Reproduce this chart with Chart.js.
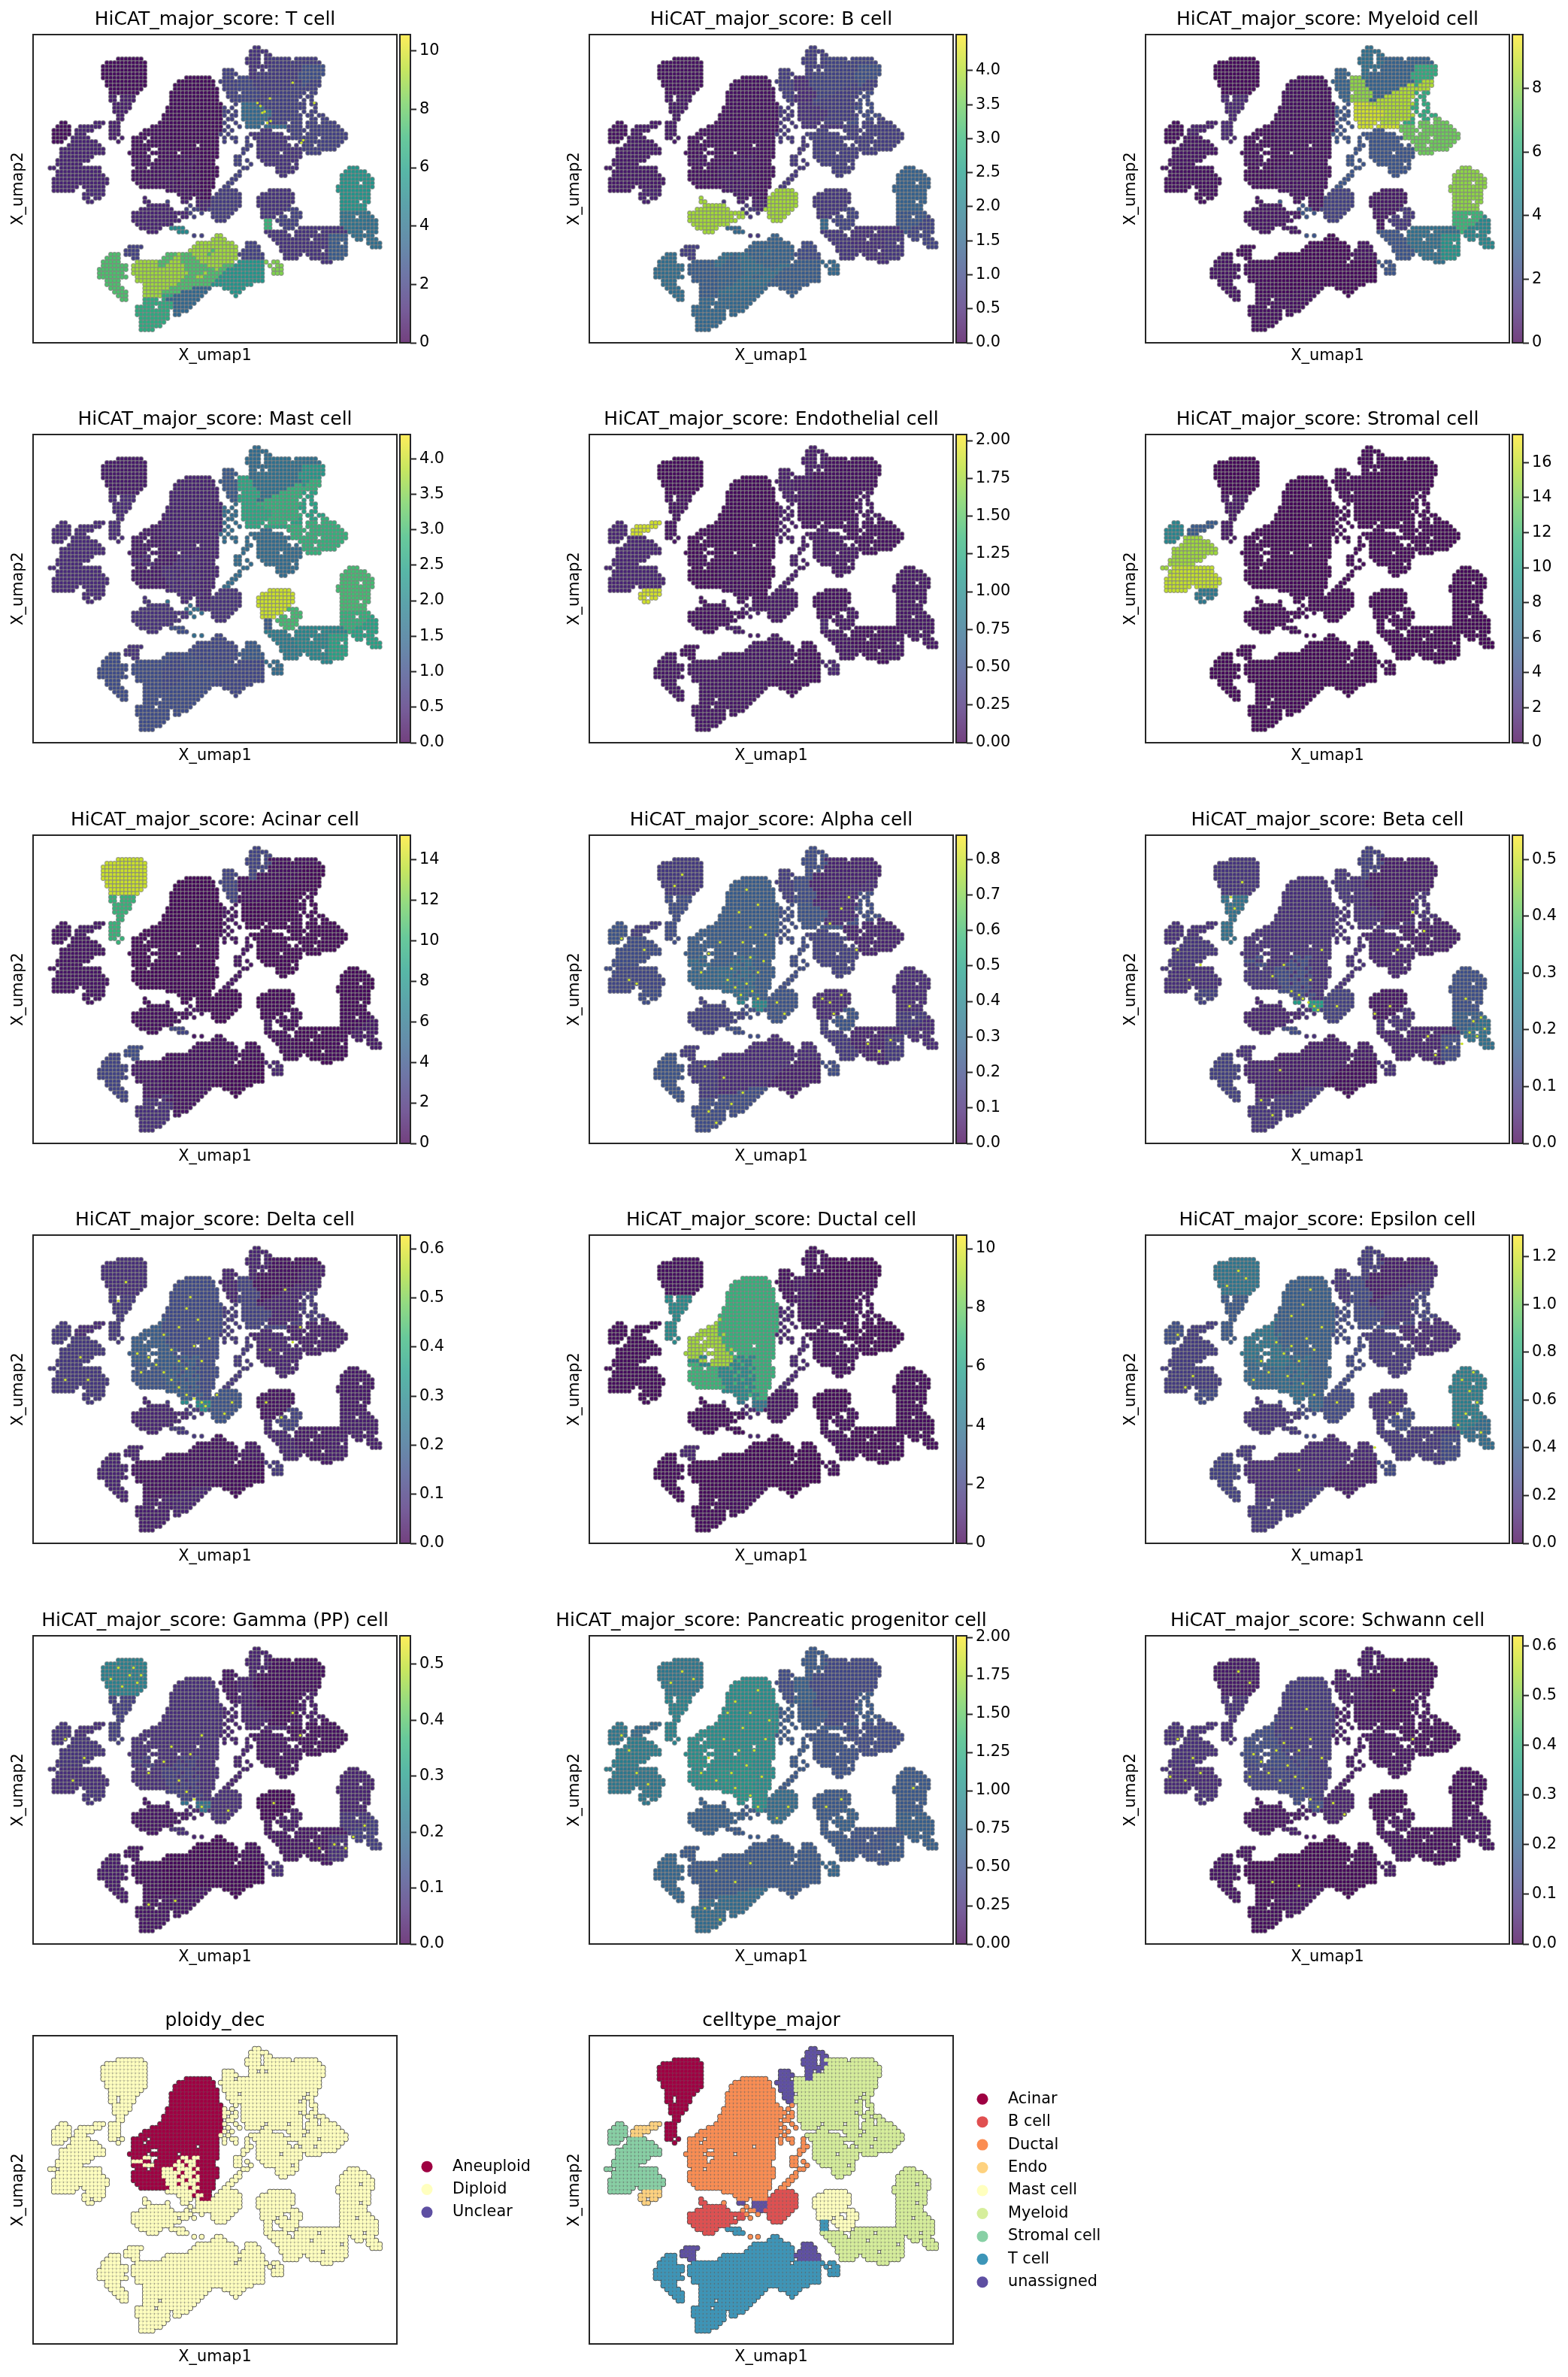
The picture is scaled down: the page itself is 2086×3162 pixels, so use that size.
<!DOCTYPE html>
<html>
<head>
<meta charset="utf-8">
<title>HiCAT major scores</title>
<script src="https://cdn.jsdelivr.net/npm/chart.js@4/dist/chart.umd.js"></script>
<style>
  html, body { margin: 0; background: #fff; }
  #fig { position: relative; width: 2086px; height: 3162px; overflow: hidden; }
  canvas { position: absolute; }
</style>
</head>
<body>
<div id="fig"></div>
<script>
// umap cells, one string per row: region letter + column span
const umapRows = [
  "", "", "",
  "U58-59",
  "U57-61",
  "U57-59 U61-62",
  "a22-28 U56-59 U61 M62-67 M69-74",
  "a19-29 U56-59 U61-62 M63-75",
  "a18-29 U57-61 M62-70 N71-76",
  "a18-29 u50-52 U57-58 U60 M62-70 N71-76",
  "a18-29 u50-53 U57-58 M59-69 N70-76",
  "a18-29 d40-46 u50-52 Q54-56 U57-58 M59-69 N70-75",
  "a19-29 d38-47 u49-53 Q54-57 M58-70 N71-72 O73-75",
  "a19-29 d37-47 u50-53 Q54-57 M58-68 O69-70 N71 O72-75",
  "a20-28 d37-48 u50-53 Q54-58 M59-66 O67-74",
  "a20-27 d36-48 u51-53 Q55-59 M60-64 O65-70 W71 W73-74",
  "A20-21 A23-26 d36-48 u51-53 Q54-59 M60-62 O63-70 W72-73",
  "A20-21 A23-26 d36-48 u52-53 Q54-58 M59-60 O61-69 W71 W73",
  "A21-25 d36-49 X53 P55-58 O59-70 W71 W73-74",
  "A21-25 d35-49 X50 X52 P55-60 O61-69 W70-71 W74",
  "A21-24 d35-49 X50-51 X53 P55-62 O63-69 W71 W73-74",
  "A22-23 d34-49 X50 X52-53 P55-62 O63-70 W72-73 W75-76",
  "A22-23 h34 d35-49 X51-52 P55-61 O62-69 W70 W73-74 R76-77",
  "r7-8 e16-18 A20-22 h33 d34-49 X50 X53 P56-60 O62-66 W68-70 R72-74 R76-79",
  "r6-9 e12-17 A20-22 h31-33 d34-49 X51 X54 P56-59 P61-66 R67-70 R72-80",
  "r5-9 e11-15 A20-22 h29-33 d34-49 X50 X52 V60-62 R67-71 R73-81",
  "r5-9 e11-13 A20-22 h28-33 d34 h35 d36-48 X49 X51 V57-65 R68-70 R72-82",
  "r5-8 S10-14 A20-21 A23 h26-29 h31-34 d35-48 X50 X52-53 X56 V58-67 R68-74 R76-82",
  "r5-7 S10-16 A22 h26-28 h30-34 d35-48 X50 X53 X56 V59-66 R70-81",
  "S9-17 h26-35 d36-42 d44-48 X56-57 V59-67 V69 R71-73 R75-80",
  "S7-18 h26-30 h33-35 d36 h37 d38-48 X55-56 V59-70 R71-79",
  "S7-18 h25-29 h31-36 d37 d39-48 X55 V59-64 V66-70 R72-75",
  "S7-15 h26-28 c29-30 h33-37 d38 c39-40 d41 c42-43 d44-48 X53-54 V59-70",
  "S6-14 c26-28 h29-30 h32-37 c38 d39 c40-42 d43-47 X53-54 X56 V60-69",
  "S6-12 f26-28 c29-31 h32-36 c37-39 d40 c41-42 d43-47 X53-54 X57 V61-67 V69",
  "S4-5 t7-17 f27-29 f31-33 c34-36 d37 c38-41 d42 c43 d44-48 X55-56 V64-69 Z83-85",
  "S6 t7-17 f26-33 c34-38 d39 c40-42 d43-48 X54 V64-68 Z82-87",
  "t6-18 f26-33 c34-37 d38 c39-41 d42 c43 d44-48 X53-54 V65-66 Z81-88",
  "t5-19 f26-34 c35-39 d40 c41-43 d44-47 X52-53 Z81-89",
  "t5-19 f27-34 c35-37 d38 c39-42 d43-47 X51-52 Z81-85 Z87-89",
  "t5-11 t13-18 f28-35 c36-40 d41 c42-43 d44-47 X50-51 Z80-89",
  "t5-10 E14-18 c35-42 d43-46 b49-53 k62-67 Z80-88",
  "E13-18 c38-41 d42 c43-44 d45-46 b48-54 k60-68 Z81-88",
  "E13-14 E16-17 B29 c39-41 c43 d44-46 b47-54 k59-68 Z81-88",
  "E14-15 B29-30 X35 j39-40 j43-46 b47-54 k59-68 Z81-85 Z87-88",
  "B30-35 X41 j43-46 b47-54 k59-67 Z81-87",
  "B28-36 X40 X42-43 j44-45 b46-53 k60-66 l67-69 Z81-87",
  "B26-40 X41 X44 b47-52 k60-65 l68-70 z81-88",
  "B26-37 B39-40 X42 b47-51 k60-63 l65-66 l68-70 z81-84 z86-88 Y89",
  "B26-38 b48-50 G61-62 l64-69 z81-87 Y88-90",
  "B27-36 G61-62 l65-69 z81-86 Y87-90",
  "B28-33 s36-39 G61-62 l66-68 v70-81 z82-84 Y85-90",
  "B30-32 s38-40 i61-66 v69-74 v76-82 z83 Y84-86 Y88-90",
  "X42 X44 T48-49 i62-67 v69-77 w78-82 Y84-89",
  "T47-50 i63-68 v69-72 v74-77 w78-82 Y85-86 Y88-90",
  "T43-52 D56-58 i64-68 v69-77 w78-80 w82 Y88-91",
  "C25-28 T42-53 D56-59 i65-69 v70-77 w78-82 Y89-91",
  "C24-27 T41-46 I47 T48-53 D55-59 i65-70 v71-75 v77 w78-82",
  "L20-22 C24-27 I35-37 T38 I39-41 T42-45 I46 T47-53 D54-60 i66-70 v72-77 w78-82",
  "L19-22 C26-27 I34-36 T37-38 I39-42 T43-53 D55-60 i66-69 v73-77 w78-81",
  "L18-22 H27-32 I33-35 T36-38 I39-43 T44-52 K54-60 y61 y63-64 v76-78",
  "L18-24 H26-32 I33-34 T35-39 I40-45 T46-49 I50-52 K53-60 y62 y64-65",
  "L17-24 H26-33 T34-39 I40-47 T48 I49-50 K51-60 y63-65",
  "L17-23 H26-33 T34-40 I41-44 T45 I46-49 K50-60 y63-65",
  "L17-24 H27-33 T34-39 I40-42 T43-44 I45-48 K49-60",
  "L19-22 H27-33 T34-38 I39-47 K48-60",
  "L19-22 H29-33 T34-37 I38-46 K47-57",
  "L20-23 H29-33 T34-35 I36-41 F42-46 K50-55",
  "L21-24 H29-33 I34-38 F39-45 K52-54",
  "L22-24 H29-33 J34-36 F37-44 K53",
  "L23-24 J29-32 J34 F35-43",
  "J29-36 F37-42",
  "J27-31 J33-36 F37-41",
  "J27-35 F37-40",
  "J27-35 F37-38",
  "J28-35",
  "J28-34",
  "J28-33",
  "J28-31",
  "", "", ""
];

// order of the values in every score list below
const regionKeys = "aArSteE" + "hdcfj" + "Bbs" + "uU" + "MNOPQWRVX" + "klGi" + "vwZzYy" + "LTHIJKFCD";

const scoreTCell = [.3,.8,.3,1,1,1,1.2, .4,.3,.6,.5,1, 1,1.8,5, 2,1.5, 1.8,2.5,2,3.5,2.2,2,2,1.5,2, 1.5,2,7,1.5, 1.5,3,5.5,4,3.8,8.5, 7.5,9,9,7.5,6.5,5.5,3.5,2,2];
const scoreBCell = [.2,.3,.2,.3,.3,.3,.4, .2,.2,.3,.2,.4, 3.9,3.9,1.5, .8,.8, .9,1.1,.8,.6,.5,1,.8,.8,.7, .7,.9,1.5,.7, .6,.7,1.4,1.2,.9,1.5, 1.6,1.4,1.3,1.6,1.5,1.3,1.5,.8,1];
const scoreMyeloid = [.2,1,.3,.5,.4,.8,.4, .3,.4,.5,.3,.5, .5,1.8,.6, 3,3.5, 3,6,8.5,9,8,6,7.5,2.5,2.5, .6,1.5,.5,2.5, 3.5,5,8,6.5,4.5,2.5, .5,.2,.3,.2,.4,.2,.4,.3,.5];
const scoreMast = [.3,.5,.5,.5,.5,.5,.5, .3,.4,.5,.3,.5, .6,.6,1, 1.2,1.5, 1.6,2.3,2.8,2.6,2.6,2.5,2.8,1.5,1.5, 4,3,1.2,1.8, 2,2.5,3,2.8,2.5,1.5, 1,.9,1,1,1,.9,1,.6,1.2];
const scoreEndo = [.05,.1,.2,.2,.2,1.9,1.9, .05,.05,.08,.05,.1, .08,.12,.15, .15,.15, .08,.08,.08,.08,.12,.12,.08,.12,.15, .08,.12,.2,.12, .08,.12,.12,.12,.12,.2, .12,.12,.12,.12,.12,.08,.12,.08,.08];
const scoreStromal = [.2,1,8,15,16,5,7, .2,.2,.3,.2,.3, .3,.3,.5, .4,.4, .2,.2,.2,.2,.3,.3,.2,.3,.4, .2,.3,.4,.3, .2,.2,.2,.2,.2,.4, .3,.2,.2,.2,.3,.2,.3,.3,.2];
const scoreAcinar = [14,10,.8,.8,.8,1,.8, .3,.2,.3,.2,.3, .5,.3,3, 3,3, .6,.3,.3,.2,.6,.4,.3,.3,.8, .3,.5,1,.5, .3,.4,.3,.4,1,1.5, 3,.6,1,.6,2,.3,.8,3.5,.5];
const scoreAlpha = [.14,.2,.22,.2,.18,.15,.2, .25,.25,.3,.28,.4, .16,.22,.2, .15,.2, .08,.08,.1,.22,.2,.2,.08,.16,.2, .1,.22,.15,.14, .08,.14,.1,.14,.1,.2, .22,.1,.14,.1,.2,.07,.2,.14,.1];
const scoreBeta = [.08,.2,.07,.08,.07,.07,.1, .07,.07,.12,.08,.3, .05,.1,.12, .08,.1, .04,.04,.04,.07,.07,.07,.04,.05,.07, .03,.07,.07,.05, .05,.12,.13,.16,.2,.07, .1,.04,.05,.04,.08,.02,.08,.07,.04];
const scoreDelta = [.08,.1,.1,.1,.1,.07,.1, .18,.14,.18,.16,.3, .06,.16,.1, .06,.06, .03,.05,.06,.12,.12,.1,.05,.06,.1, .03,.12,.06,.06, .04,.05,.04,.05,.05,.1, .06,.03,.03,.03,.05,.02,.06,.06,.04];
const scoreDuctal = [.4,5,.3,.3,.3,.3,.3, 9,6.8,5,7,4, .3,.5,.3, .4,.5, .2,.2,.3,.5,.6,.4,.2,.4,1, .2,.4,.3,.4, .2,.3,.3,.3,.3,.4, .3,.2,.2,.2,.3,.1,.4,1,.2];
const scoreEpsilon = [.5,.35,.3,.22,.22,.22,.28, .5,.38,.45,.42,.4, .18,.28,.2, .18,.22, .1,.14,.18,.28,.28,.25,.14,.2,.28, .18,.28,.2,.2, .2,.28,.55,.55,.45,.28, .24,.14,.14,.14,.2,.1,.2,.2,.14];
const scoreGamma = [.24,.1,.08,.08,.07,.07,.08, .07,.07,.1,.07,.2, .03,.07,.07, .03,.05, .02,.02,.02,.05,.05,.04,.02,.03,.05, .01,.04,.03,.03, .03,.07,.05,.08,.1,.07, .04,.01,.02,.01,.03,.01,.03,.03,.02];
const scoreProgenitor = [.8,.9,.8,.85,.8,.7,.8, 1,1,1.05,1,1, .6,.7,.55, .45,.55, .42,.42,.42,.55,.6,.55,.45,.5,.55, .55,.6,.55,.55, .5,.55,.55,.6,.6,.65, .65,.55,.55,.55,.7,.55,.7,.55,.55];
const scoreSchwann = [.04,.08,.08,.08,.07,.08,.08, .14,.1,.13,.12,.14, .03,.05,.05, .04,.04, .02,.02,.02,.03,.04,.03,.02,.03,.04, .02,.03,.03,.03, .02,.02,.02,.03,.03,.04, .03,.01,.01,.01,.02,.01,.03,.03,.02];

// bright single points seen in the noisy panels: column,row
const speckTCell = "58.7,17.7 59.5,18.5 60,20.3 60.6,20 61.3,23 62.2,22.5 70.3,28.3 70.8,27.6 73.7,17.7 68,12.3 62,16.5";
const speckAlpha = "38,40 39.5,42 41,39 42.5,41 44,43 36,38 37,35 42,32 44,36 45.5,33 40,28 42,24 39,20 34,28 31,31 29,36 46,26 44,18 41,14 63,44 64,47 61,43 66,42 30,61 35,64 40,68 37,71 31,73 33,76 66,19 68,16 63,23 70,30 73,55 76,57 79,54 84,45 49,44 51,47 24,10 22,13 10,38 14,30 8,27 12,39";
const speckBeta = "41,43 42.5,44 44,45 45,46 40,42 38,41 43,38 36,34 33,37 46,30 22,16 23,19 25,12 85,52 87,53 89,51 83,55 86,49 88,48 79,56 76,58 74,53 84,43 60,47 64,45 30,70 33,74 35,62 8,30 14,34 11,38 50,45 70,20 66,30 73,25";
const speckDelta = "30,32 32,34 34,36 36,38 38,40 40,42 42,43 44,44 45,45 36,30 38,33 40,35 42,29 44,33 46,27 43,22 40,19 28,36 27,31 34,26 38,24 41,16 50,47 52,44 48,42 66,14 70,24 68,28 62,30 61,44 65,48 12,32 8,38 14,38 24,12 22,17";
const speckEpsilon = "34,28 36,31 38,29 40,33 42,27 44,30 46,24 38,21 41,18 43,14 30,33 32,36 37,37 41,39 44,42 28,38 83,38 85,41 87,44 84,47 82,50 86,36 88,52 64,44 66,47 50,44 24,9 21,13 26,11 8,26 12,37 10,40 40,62 60,56";
const speckGamma = "22,8 25,10 27,12 20,11 23,13 26,8 28,10 42,43 44,45 40,41 38,38 34,33 36,29 41,31 44,26 30,36 84,53 82,56 79,55 87,50 75,56 63,44 51,46 10,38 13,32 8,27 30,71 37,70 68,20 70,26";
const speckProgenitor = "36,20 38,17 40,24 42,20 44,14 46,27 43,30 39,30 35,27 31,32 29,36 33,38 37,36 41,34 45,37 38,40 42,42 44,45 47,22 24,9 21,12 27,11 8,26 12,36 15,39 10,30 66,43 62,45 52,45 49,48 85,40 33,62 38,65 30,72 34,75 42,60";
const speckSchwann = "30,33 32,36 35,38 37,34 39,37 41,40 43,43 45,45 36,28 40,30 43,27 46,32 34,30 38,24 42,19 28,31 27,37 49,44 52,47 12,32 8,27 10,38 14,36 6,37 24,9 27,12 65,14 70,27 33,65 40,66";
const speckLists = [speckTCell,"","","","","","",speckAlpha,speckBeta,speckDelta,"",speckEpsilon,speckGamma,speckProgenitor,speckSchwann];

const scoreNames = ["T cell","B cell","Myeloid cell","Mast cell","Endothelial cell","Stromal cell","Acinar cell","Alpha cell","Beta cell","Delta cell","Ductal cell","Epsilon cell","Gamma (PP) cell","Pancreatic progenitor cell","Schwann cell"];
const scoreLists = [scoreTCell,scoreBCell,scoreMyeloid,scoreMast,scoreEndo,scoreStromal,scoreAcinar,scoreAlpha,scoreBeta,scoreDelta,scoreDuctal,scoreEpsilon,scoreGamma,scoreProgenitor,scoreSchwann];
const scoreMax = [10.56,4.53,9.69,4.34,2.04,17.6,15.2,.868,.543,.628,10.46,1.29,.551,2.01,.62];
const tickLists = [
  [0,2,4,6,8,10],
  [0,.5,1,1.5,2,2.5,3,3.5,4],
  [0,2,4,6,8],
  [0,.5,1,1.5,2,2.5,3,3.5,4],
  [0,.25,.5,.75,1,1.25,1.5,1.75,2],
  [0,2,4,6,8,10,12,14,16],
  [0,2,4,6,8,10,12,14],
  [0,.1,.2,.3,.4,.5,.6,.7,.8],
  [0,.1,.2,.3,.4,.5],
  [0,.1,.2,.3,.4,.5,.6],
  [0,2,4,6,8,10],
  [0,.2,.4,.6,.8,1,1.2],
  [0,.1,.2,.3,.4,.5],
  [0,.25,.5,.75,1,1.25,1.5,1.75,2],
  [0,.1,.2,.3,.4,.5,.6]
];
const tickDecimals = [0,1,0,1,2,0,0,1,1,1,0,1,1,2,1];

const ploidyNames = ["Aneuploid","Diploid","Unclear"];
const ploidyColors = ["#9e0142","#ffffbf","#5e4fa2"];
// region letters that read as aneuploid, the rest is diploid
const ploidyAneuploid = "hdf";

const celltypeNames = ["Acinar","B cell","Ductal","Endo","Mast cell","Myeloid","Stromal cell","T cell","unassigned"];
const celltypeColors = ["#9e0142","#e04f50","#fb8d52","#fed27f","#ffffbf","#d6ee9b","#88d0a5","#3c95b8","#5e4fa2"];
const celltypeRegions = ["aA","Bb","hdcfX","eE","kl","MNOPQWRVivwZzY","rSt","sGyLTHIJKF","juUCD"];

const viridisStops = ["#440154","#482878","#3e4989","#31688e","#26828e","#1f9e89","#35b779","#6ece58","#b5de2b","#fde725"];

const fontName = "'DejaVu Sans'";
const inkColor = "#262626";
const colLeft = [44, 784, 1524];
const rowTop = [46, 578, 1111, 1643, 2176, 2708];
const axW = 484, axH = 410;

Chart.defaults.font.family = fontName;
Chart.defaults.color = "#000";
Chart.defaults.animation = false;
Chart.defaults.responsive = false;
Chart.defaults.devicePixelRatio = 1;
Chart.defaults.events = [];
Chart.defaults.layout.autoPadding = false;
Chart.defaults.plugins.legend.display = false;
Chart.defaults.plugins.tooltip.enabled = false;

const fig = document.getElementById("fig");

function hexToRgb(h) {
  return [1, 3, 5].map(i => parseInt(h.slice(i, i + 2), 16));
}

function viridis(t, alpha) {
  t = Math.min(1, Math.max(0, t)) * (viridisStops.length - 1);
  const i = Math.min(viridisStops.length - 2, Math.floor(t));
  const a = hexToRgb(viridisStops[i]), b = hexToRgb(viridisStops[i + 1]);
  const c = a.map((v, k) => Math.round(v + (b[k] - v) * (t - i)));
  return `rgba(${c[0]},${c[1]},${c[2]},${alpha})`;
}

function cells() {
  const out = [];
  umapRows.forEach((row, r) => {
    row.split(" ").filter(Boolean).forEach(tok => {
      const m = tok.match(/^(.)(\d+)(?:-(\d+))?$/);
      const end = m[3] ? +m[3] : +m[2];
      for (let c = +m[2]; c <= end; c++) out.push({ x: c, y: r, k: m[1] });
    });
  });
  return out;
}
const allCells = cells();

const framePlugin = {
  id: "frame",
  afterDraw(chart) {
    const a = chart.chartArea, ctx = chart.ctx;
    ctx.save();
    ctx.strokeStyle = inkColor;
    ctx.lineWidth = 2;
    ctx.strokeRect(a.left, a.top, a.right - a.left, a.bottom - a.top);
    ctx.restore();
  }
};

function addCanvas(left, top, w, h) {
  const c = document.createElement("canvas");
  c.width = w;
  c.height = h;
  c.style.left = left + "px";
  c.style.top = top + "px";
  fig.appendChild(c);
  return c;
}

// side of the canvas beyond the axes, so the centred title has room
const sideGap = 60;

function umapChart(left, top, title, datasets) {
  const canvas = addCanvas(left - sideGap, top - 46, axW + 2 * sideGap, 46 + axH + 50);
  return new Chart(canvas, {
    type: "scatter",
    data: { datasets },
    options: {
      layout: { padding: { left: 0, right: 0, top: 0, bottom: 20 } },
      plugins: {
        title: { display: true, text: title, font: { size: 25, weight: "normal" }, color: "#000", padding: { top: 11, bottom: 5 } }
      },
      scales: {
        x: {
          min: -0.5, max: 95.5,
          grid: { display: false }, border: { display: false }, ticks: { display: false },
          title: { display: true, text: "X_umap1", font: { size: 20.8 }, color: "#000", padding: 0 },
          afterFit: s => { s.height = 30; }
        },
        y: {
          min: -0.5, max: 81.5, reverse: true,
          grid: { display: false }, border: { display: false }, ticks: { display: false },
          title: { display: true, text: "X_umap2", font: { size: 20.8 }, color: "#000", padding: { top: 28, bottom: 0 } },
          afterFit: s => { s.width = sideGap; }
        },
        // empty scale on the right keeps the axes centred under the title
        yRight: {
          position: "right",
          grid: { display: false }, border: { display: false }, ticks: { display: false },
          afterFit: s => { s.width = sideGap; }
        }
      }
    },
    plugins: [framePlugin]
  });
}

function colorbar(left, top, vmax, ticks, decimals) {
  const canvas = addCanvas(left, top - 14, 110, axH + 28);
  return new Chart(canvas, {
    type: "bar",
    data: {
      labels: [""],
      datasets: [{
        data: [[0, vmax]],
        barPercentage: 1,
        categoryPercentage: 1,
        backgroundColor: ctx => {
          const a = ctx.chart.chartArea;
          if (!a) return "#fff";
          const g = ctx.chart.ctx.createLinearGradient(0, a.bottom, 0, a.top);
          viridisStops.forEach((c, i) => g.addColorStop(i / (viridisStops.length - 1), viridis(i / (viridisStops.length - 1), 0.75)));
          return g;
        }
      }]
    },
    options: {
      layout: { padding: { left: 1, right: 0, top: 14, bottom: 14 } },
      scales: {
        x: { display: false },
        y: {
          position: "right", min: 0, max: vmax,
          grid: { drawOnChartArea: false, drawTicks: true, tickLength: 8, tickColor: inkColor, tickWidth: 2 },
          border: { display: false },
          afterBuildTicks: s => { s.ticks = ticks.map(v => ({ value: v })); },
          afterFit: s => { s.width = 110 - 15; s.paddingTop = 0; s.paddingBottom = 0; },
          ticks: { font: { size: 20.8 }, color: "#000", padding: 4, autoSkip: false, callback: v => v.toFixed(decimals) }
        }
      }
    },
    plugins: [framePlugin]
  });
}

function legendChart(left, top, names, colors) {
  const h = Math.round(names.length * 30.4);
  const canvas = addCanvas(left - 15, top, 240, h);
  return new Chart(canvas, {
    type: "scatter",
    data: {
      datasets: [{
        data: names.map(n => ({ x: 0, y: n })),
        pointRadius: 7.5,
        pointBackgroundColor: colors,
        pointBorderWidth: 0
      }]
    },
    options: {
      scales: {
        x: { display: false, min: -1, max: 1 },
        y: {
          type: "category", labels: names, position: "right", offset: true,
          grid: { display: false }, border: { display: false },
          afterFit: s => { s.width = 240 - 30; s.paddingTop = 0; s.paddingBottom = 0; },
          ticks: { font: { size: 20.8 }, color: "#000", padding: 11, autoSkip: false }
        }
      }
    }
  });
}

function scoreDatasets(list, vmax, speck) {
  const specks = speck.split(" ").filter(Boolean).map(s => {
    const [x, y] = s.split(",");
    return { x: +x, y: +y };
  });
  return [
    { data: specks, parsing: false, order: 1, pointRadius: 1.8, pointBorderWidth: 0, pointBackgroundColor: viridis(0.92, 1) },
    {
      data: allCells,
      parsing: false,
      order: 2,
      pointRadius: 2.9,
      pointBorderWidth: 1.1,
      pointBorderColor: "rgba(128,128,128,0.7)",
      pointBackgroundColor: allCells.map(p => viridis(list[regionKeys.indexOf(p.k)] / vmax, 1))
    }
  ];
}

function categoryDatasets(colorOf) {
  return [
    { data: allCells, parsing: false, order: 2, pointRadius: 3.7, pointBorderWidth: 0, pointBackgroundColor: "#3a3a3a" },
    {
      data: allCells, parsing: false, order: 1, pointRadius: 3,
      pointBorderWidth: 0.4, pointBorderColor: "rgba(128,128,128,0.5)",
      pointBackgroundColor: allCells.map(p => colorOf(p.k))
    }
  ];
}

scoreNames.forEach((name, i) => {
  const left = colLeft[i % 3], top = rowTop[Math.floor(i / 3)];
  umapChart(left, top, "HiCAT_major_score: " + name, scoreDatasets(scoreLists[i], scoreMax[i], speckLists[i]));
  colorbar(left + axW + 3, top, scoreMax[i], tickLists[i], tickDecimals[i]);
});

umapChart(colLeft[0], rowTop[5], "ploidy_dec",
  categoryDatasets(k => ploidyColors[ploidyAneuploid.includes(k) ? 0 : 1]));
legendChart(568, 2867, ploidyNames, ploidyColors);

umapChart(colLeft[1], rowTop[5], "celltype_major",
  categoryDatasets(k => celltypeColors[celltypeRegions.findIndex(s => s.includes(k))]));
legendChart(1307, 2777, celltypeNames, celltypeColors);
</script>
</body>
</html>
